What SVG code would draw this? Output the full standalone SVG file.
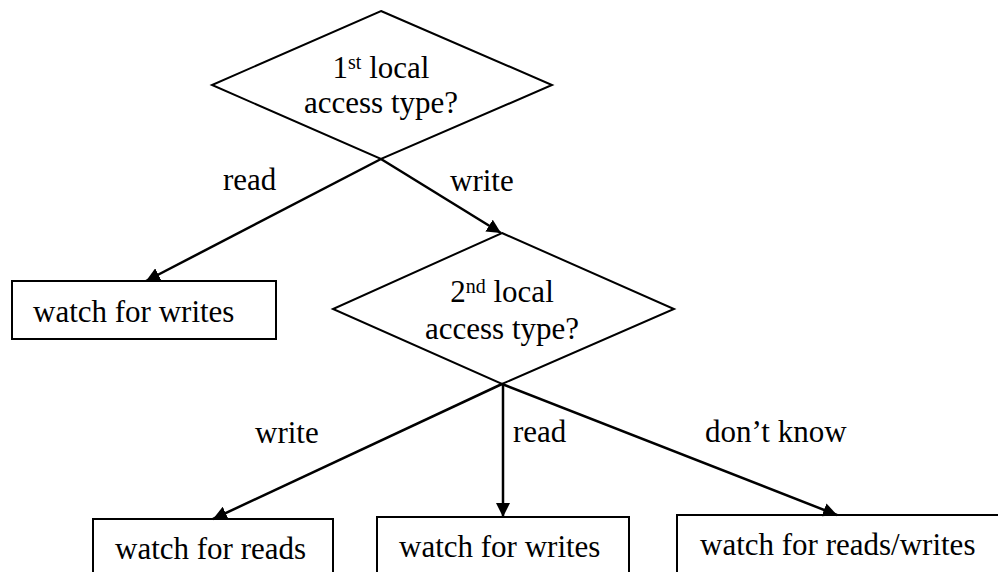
<svg xmlns="http://www.w3.org/2000/svg" width="998" height="572" viewBox="0 0 998 572">
  <defs>
    <marker id="arrow" markerUnits="userSpaceOnUse" markerWidth="14" markerHeight="14" refX="14" refY="7" orient="auto">
      <path d="M0,0 L14,7 L0,14 z" fill="#000"/>
    </marker>
  </defs>
  <style>
    .shape { fill: #fff; stroke: #000; stroke-width: 2; }
    .edge { stroke: #000; stroke-width: 2.5; fill: none; marker-end: url(#arrow); }
    text { font-family: "Liberation Serif", "Times New Roman", serif; font-size: 31px; fill: #000; }
    .mid { text-anchor: middle; }
    .sup { font-size: 20px; }
  </style>
  <rect width="998" height="572" fill="#fff"/>

  <!-- decision: first access -->
  <g id="decision1">
    <polygon class="shape" points="381,11 552,85 381,159 212,85"/>
    <text class="mid" x="381" y="78">1<tspan class="sup" dy="-9">st</tspan><tspan dy="9"> local</tspan></text>
    <text class="mid" x="381" y="113">access type?</text>
  </g>

  <!-- decision: second access -->
  <g id="decision2">
    <polygon class="shape" points="502,233 674,309 502,384 333,309"/>
    <text class="mid" x="502" y="302">2<tspan class="sup" dy="-9">nd</tspan><tspan dy="9"> local</tspan></text>
    <text class="mid" x="502" y="339">access type?</text>
  </g>

  <!-- outcomes -->
  <g id="watch-writes-1">
    <rect class="shape" x="12" y="281" width="264" height="58"/>
    <text x="33" y="322">watch for writes</text>
  </g>
  <g id="watch-reads">
    <rect class="shape" x="93" y="519" width="240" height="80"/>
    <text x="115" y="559">watch for reads</text>
  </g>
  <g id="watch-writes-2">
    <rect class="shape" x="377" y="517" width="252" height="80"/>
    <text x="399" y="557">watch for writes</text>
  </g>
  <g id="watch-reads-writes">
    <rect class="shape" x="677" y="515" width="330" height="80"/>
    <text x="700" y="555">watch for reads/writes</text>
  </g>

  <!-- connectors -->
  <g id="connectors">
    <line class="edge" x1="381" y1="159" x2="146" y2="281"/>
    <line class="edge" x1="381" y1="159" x2="501" y2="233"/>
    <line class="edge" x1="502" y1="384" x2="213" y2="519"/>
    <line class="edge" x1="503" y1="384" x2="503" y2="517"/>
    <line class="edge" x1="502" y1="384" x2="837" y2="515"/>
    <text x="223" y="190">read</text>
    <text x="450" y="191">write</text>
    <text x="255" y="443">write</text>
    <text x="513" y="442">read</text>
    <text x="705" y="442">don’t know</text>
  </g>
</svg>
